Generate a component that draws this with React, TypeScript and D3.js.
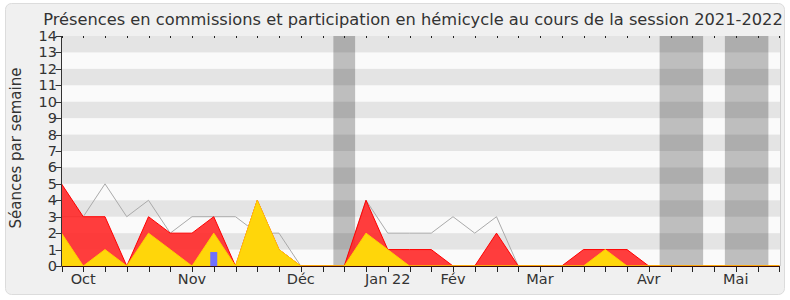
import React from "react";
import * as d3 from "d3";

const weeks = d3.range(34);
const hemicycle = [5,3,3,0,3,2,2,3,0,4,1,0,0,0,4,1,1,1,0,0,2,0,0,0,1,1,1,0,0,0,0,0,0,0];
const interventions = [2,0,1,0,2,1,0,2,0,4,1,0,0,0,2,1,0,0,0,0,0,0,0,0,0,1,0,0,0,0,0,0,0,0];
const commissions = [3,3,5,3,4,2,3,3,3,2,2,0,0,0,4,2,2,2,3,2,3,0,0,0,0,0,0,0,0,0,0,0,0,0];
const questions = [{ week: 7, value: 0.85 }];
const vacations = [[12.5, 13.5], [27.5, 29.5], [30.5, 32.5]];
const monthLabels = [
  { week: 1, label: "Oct" },
  { week: 6, label: "Nov" },
  { week: 11, label: "Déc" },
  { week: 15, label: "Jan 22" },
  { week: 18, label: "Fév" },
  { week: 22, label: "Mar" },
  { week: 27, label: "Avr" },
  { week: 31, label: "Mai" },
];
const yTicks = d3.range(0, 15);

const W = 790, H = 300;
const left = 61.5, right = 779.25, top = 36, bottom = 266;
const FONT = "DejaVu Sans, Verdana, sans-serif";

export default function App() {
  const x = d3.scaleLinear().domain([0, 33]).range([left, right]);
  const y = d3.scaleLinear().domain([0, 14]).range([bottom, top]);
  const plotRight = 780;

  const area = (vals: number[]) =>
    d3.area<number>().x((_, i) => x(i)).y0(y(0)).y1((v) => y(v))(vals) || "";
  const line = d3.line<number>().x((_, i) => x(i)).y((v) => y(v))(commissions) || "";

  return (
    <svg width={W} height={H} style={{ position: "absolute", left: 0, top: 0 }} fontFamily={FONT}>
      <rect x={0} y={0} width={W} height={H} fill="#fff" />
      <rect x={5.5} y={3.5} width={779} height={291} rx={6} fill="#f0f0f0" stroke="#dcdcdc" />
      <text x={413} y={25} textAnchor="middle" fontSize={16.25} fill="#333">
        Présences en commissions et participation en hémicycle au cours de la session 2021-2022
      </text>

      {/* plot background */}
      <rect x={left} y={top} width={plotRight - left} height={bottom - top} fill="#fafafa" />
      {vacations.map(([a, b], i) => (
        <rect key={"v" + i} x={x(a)} y={top} width={x(b) - x(a)} height={bottom - top} fill="#bebebe" />
      ))}
      {yTicks.slice(0, 14).filter((k) => k % 2 === 1).map((k) => (
        <rect key={"b" + k} x={left} y={y(k + 1)} width={plotRight - left} height={y(k) - y(k + 1)} fill="rgba(0,0,0,0.085)" />
      ))}
      <line x1={plotRight + 0.5} x2={plotRight + 0.5} y1={top} y2={bottom} stroke="#d0d0d0" />

      {/* data */}
      <path d={line} fill="none" stroke="#aaaaaa" strokeWidth={1} />
      <path d={area(hemicycle)} fill="rgba(255,40,40,0.9)" stroke="#ff0000" strokeWidth={1} />
      <path d={area(interventions)} fill="#ffd60a" stroke="#ffd000" strokeWidth={1} />
      {questions.map((q, i) => (
        <rect key={"q" + i} x={x(q.week) - 3.5} y={y(q.value)} width={7} height={y(0) - y(q.value)} fill="#7070ff" />
      ))}

      {/* axes */}
      <line x1={left} x2={left} y1={top} y2={bottom} stroke="#333" />
      <line x1={left} x2={plotRight} y1={bottom + 0.5} y2={bottom + 0.5} stroke="#3a0a0a" />
      {yTicks.map((t) => (
        <g key={"y" + t}>
          <line x1={left - 6} x2={left} y1={Math.round(y(t)) + 0.5} y2={Math.round(y(t)) + 0.5} stroke="#333" />
          <text x={57} y={y(t) + 5} textAnchor="end" fontSize={14.5} fill="#333">{t}</text>
        </g>
      ))}
      {weeks.map((i) => (
        <g key={"x" + i}>
          <line x1={Math.round(x(i)) + 0.5} x2={Math.round(x(i)) + 0.5} y1={bottom} y2={bottom + 6} stroke="#222" />
          <line x1={Math.round(x(i)) + 0.5} x2={Math.round(x(i)) + 0.5} y1={top} y2={top + 2} stroke="#222" />
        </g>
      ))}
      {monthLabels.map((m) => (
        <text key={m.label} x={x(m.week)} y={283.5} textAnchor="middle" fontSize={14.5} fill="#333">{m.label}</text>
      ))}
      <text transform={`translate(21,148) rotate(-90)`} textAnchor="middle" fontSize={15} fill="#333">
        Séances par semaine
      </text>
    </svg>
  );
}
